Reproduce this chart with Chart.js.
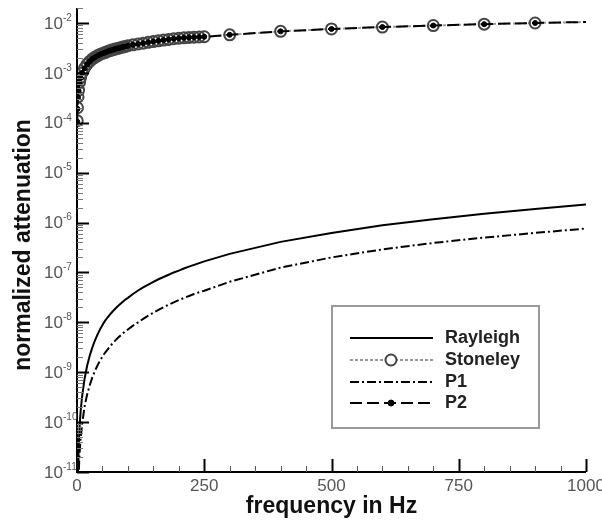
<!DOCTYPE html>
<html>
<head>
<meta charset="utf-8">
<script src="https://cdn.jsdelivr.net/npm/chart.js@4"></script>
<style>
  body { margin: 0; background: #fff; }
  canvas { display: block; }
</style>
</head>
<body>
<canvas id="chart" width="602" height="523"></canvas>
<script>
// frequency samples (Hz)
const freq = [0.5, 1, 2, 3, 5, 7, 10, 15, 20, 25, 30, 35, 40, 45, 50, 55, 60, 65, 70, 75, 80, 85, 90, 95, 100,
  110, 120, 130, 140, 150, 160, 170, 180, 190, 200, 210, 220, 230, 240, 250, 300, 400, 500, 600, 700, 800, 900, 1000];

// normalized attenuation per mode
const rayleigh = [7e-13, 2.9e-12, 1.2e-11, 2.8e-11, 7.9e-11, 1.58e-10, 3.27e-10, 7.5e-10, 1.36e-9, 2.14e-9, 3.11e-9, 4.27e-9, 5.62e-9, 7.15e-9, 8.87e-9,
  1.07e-8, 1.25e-8, 1.45e-8, 1.65e-8, 1.87e-8, 2.1e-8, 2.34e-8, 2.6e-8, 2.86e-8, 3.1e-8,
  3.7e-8, 4.35e-8, 5.0e-8, 5.7e-8, 6.5e-8, 7.3e-8, 8.1e-8, 9.0e-8, 1.0e-7, 1.09e-7, 1.2e-7, 1.31e-7, 1.42e-7, 1.54e-7, 1.67e-7,
  2.36e-7, 4.1e-7, 6.2e-7, 8.8e-7, 1.17e-6, 1.5e-6, 1.88e-6, 2.3e-6];

const stoneley = [1.1e-4, 2e-4, 3.3e-4, 4.5e-4, 6.5e-4, 8e-4, 1.0e-3, 1.25e-3, 1.5e-3, 1.7e-3, 1.9e-3, 2.05e-3, 2.2e-3, 2.35e-3, 2.45e-3,
  2.55e-3, 2.7e-3, 2.8e-3, 2.9e-3, 3.0e-3, 3.1e-3, 3.2e-3, 3.3e-3, 3.4e-3, 3.5e-3,
  3.65e-3, 3.8e-3, 3.95e-3, 4.1e-3, 4.25e-3, 4.4e-3, 4.55e-3, 4.7e-3, 4.85e-3, 4.95e-3, 5.05e-3, 5.15e-3, 5.2e-3, 5.25e-3, 5.3e-3,
  5.8e-3, 6.8e-3, 7.6e-3, 8.3e-3, 8.9e-3, 9.5e-3, 1.0e-2, 1.05e-2];

const p1 = [2.2e-13, 9e-13, 3.5e-12, 8e-12, 2.3e-11, 4.5e-11, 9e-11, 2.1e-10, 3.6e-10, 5.5e-10, 7.8e-10, 1.05e-9, 1.35e-9, 1.7e-9, 2.05e-9,
  2.45e-9, 2.85e-9, 3.3e-9, 3.8e-9, 4.3e-9, 4.85e-9, 5.4e-9, 6.0e-9, 6.6e-9, 7.2e-9,
  8.6e-9, 1.0e-8, 1.17e-8, 1.36e-8, 1.56e-8, 1.78e-8, 2.01e-8, 2.26e-8, 2.52e-8, 2.8e-8, 3.08e-8, 3.38e-8, 3.7e-8, 4.0e-8, 4.3e-8,
  6.5e-8, 1.25e-7, 2.0e-7, 2.9e-7, 3.9e-7, 5.0e-7, 6.2e-7, 7.6e-7];

const p2 = [1.05e-4, 1.9e-4, 3.2e-4, 4.4e-4, 6.4e-4, 7.9e-4, 1.0e-3, 1.24e-3, 1.49e-3, 1.7e-3, 1.9e-3, 2.05e-3, 2.2e-3, 2.35e-3, 2.45e-3,
  2.55e-3, 2.7e-3, 2.8e-3, 2.9e-3, 3.0e-3, 3.1e-3, 3.2e-3, 3.3e-3, 3.4e-3, 3.5e-3,
  3.65e-3, 3.8e-3, 3.95e-3, 4.1e-3, 4.25e-3, 4.4e-3, 4.55e-3, 4.7e-3, 4.85e-3, 4.95e-3, 5.05e-3, 5.15e-3, 5.2e-3, 5.25e-3, 5.3e-3,
  5.8e-3, 6.8e-3, 7.6e-3, 8.3e-3, 8.9e-3, 9.5e-3, 1.0e-2, 1.05e-2];

const xTickLabels = [0, 250, 500, 750, 1000];
const yExponents = [-2, -3, -4, -5, -6, -7, -8, -9, -10, -11];

function toPoints(values) {
  return freq.map((f, i) => ({ x: f, y: values[i] }));
}

// markers are skipped on the last sample, like the original plot
const markerAt = (r) => (c) => (c.raw && c.raw.x === 1000 ? 0 : r);

const axesPlugin = {
  id: 'axesPlugin',
  afterDraw(chart) {
    const { ctx, chartArea: a, scales: { x, y } } = chart;
    ctx.save();

    // axis lines
    ctx.strokeStyle = '#000';
    ctx.lineWidth = 2;
    ctx.beginPath();
    ctx.moveTo(a.left, a.top);
    ctx.lineTo(a.left, a.bottom);
    ctx.lineTo(a.right, a.bottom);
    ctx.stroke();

    // x ticks (inward)
    for (let v = 0; v <= 1000; v += 50) {
      const px = Math.round(x.getPixelForValue(v)) + 0.5;
      const major = v % 250 === 0;
      ctx.lineWidth = major ? 2 : 1;
      ctx.strokeStyle = major ? '#000' : '#555';
      ctx.beginPath();
      ctx.moveTo(px, a.bottom);
      ctx.lineTo(px, a.bottom - (major ? 13 : 6));
      ctx.stroke();
    }

    // y ticks (inward)
    yExponents.forEach(e => {
      for (let k = 1; k <= 9; k++) {
        const v = k * Math.pow(10, e);
        if (v > y.max) break;
        const py = Math.round(y.getPixelForValue(v)) + 0.5;
        const major = k === 1;
        ctx.lineWidth = major ? 2 : 1;
        ctx.strokeStyle = major ? '#000' : '#777';
        ctx.beginPath();
        ctx.moveTo(a.left, py);
        ctx.lineTo(a.left + (major ? 12 : 6), py);
        ctx.stroke();
      }
    });

    // tick labels
    ctx.fillStyle = '#555';
    ctx.font = '17px "Liberation Sans", Arial, sans-serif';
    ctx.textAlign = 'center';
    ctx.textBaseline = 'middle';
    xTickLabels.forEach(v => {
      ctx.fillText(String(v), x.getPixelForValue(v), a.bottom + 14);
    });

    yExponents.forEach(e => {
      const py = y.getPixelForValue(Math.pow(10, e));
      ctx.font = '17px "Liberation Sans", Arial, sans-serif';
      ctx.textAlign = 'right';
      ctx.fillText('10', a.left - 14, py + 1);
      ctx.font = '10px "Liberation Sans", Arial, sans-serif';
      ctx.textAlign = 'left';
      ctx.fillText(String(e), a.left - 14, py - 5);
    });

    // axis titles
    ctx.fillStyle = '#111';
    ctx.font = 'bold 23px "Liberation Sans", Arial, sans-serif';
    ctx.textAlign = 'center';
    ctx.fillText('frequency in Hz', (a.left + a.right) / 2, a.bottom + 35);
    ctx.save();
    ctx.translate(24, 245);
    ctx.rotate(-Math.PI / 2);
    ctx.fillText('normalized attenuation', 0, 0);
    ctx.restore();

    // legend box
    const lx = 332, ly = 306, lw = 207, lh = 122;
    ctx.fillStyle = '#fff';
    ctx.fillRect(lx, ly, lw, lh);
    ctx.strokeStyle = '#999';
    ctx.lineWidth = 2;
    ctx.strokeRect(lx, ly, lw, lh);

    const rows = [32, 54, 76, 97];
    chart.data.datasets.slice().sort((d1, d2) => d1.legendIndex - d2.legendIndex).forEach((ds, i) => {
      const ry = ly + rows[i];
      ctx.setLineDash(ds.borderDash || []);
      ctx.strokeStyle = ds.borderColor;
      ctx.lineWidth = ds.borderWidth;
      ctx.beginPath();
      ctx.moveTo(lx + 18, ry);
      ctx.lineTo(lx + 101, ry);
      ctx.stroke();
      ctx.setLineDash([]);
      if (ds.legendMarker) {
        ctx.beginPath();
        ctx.arc(lx + 59, ry, ds.legendMarker, 0, Math.PI * 2);
        ctx.fillStyle = ds.legendMarkerFill;
        ctx.fill();
        ctx.strokeStyle = ds.pointBorderColor;
        ctx.lineWidth = ds.pointBorderWidth;
        ctx.stroke();
      }
      ctx.fillStyle = '#222';
      ctx.font = 'bold 18px "Liberation Sans", Arial, sans-serif';
      ctx.textAlign = 'left';
      ctx.fillText(ds.label, lx + 113, ry);
    });

    ctx.restore();
  }
};

new Chart(document.getElementById('chart'), {
  type: 'line',
  data: {
    datasets: [
      {
        label: 'P2', legendIndex: 3, order: 0,
        data: toPoints(p2),
        borderColor: '#000', borderWidth: 2, borderDash: [12, 5],
        pointRadius: markerAt(2.5), pointBackgroundColor: '#000', pointBorderColor: '#000', pointBorderWidth: 1,
        legendMarker: 3, legendMarkerFill: '#000'
      },
      {
        label: 'Stoneley', legendIndex: 1, order: 1,
        data: toPoints(stoneley),
        borderColor: '#999', borderWidth: 2, borderDash: [3, 2],
        pointRadius: markerAt(5.5), pointBackgroundColor: 'rgba(255,255,255,0)', pointBorderColor: '#444', pointBorderWidth: 2,
        legendMarker: 5.5, legendMarkerFill: '#fff'
      },
      {
        label: 'P1', legendIndex: 2, order: 2,
        data: toPoints(p1),
        borderColor: '#000', borderWidth: 2, borderDash: [9, 3, 2, 3],
        pointRadius: 0
      },
      {
        label: 'Rayleigh', legendIndex: 0, order: 3,
        data: toPoints(rayleigh),
        borderColor: '#000', borderWidth: 2,
        pointRadius: 0
      }
    ]
  },
  options: {
    responsive: false,
    animation: false,
    layout: { padding: { left: 77, right: 16, top: 8, bottom: 51 } },
    elements: { line: { tension: 0 } },
    scales: {
      x: { type: 'linear', min: 0, max: 1000, display: false },
      y: { type: 'logarithmic', min: 1e-11, max: 0.02, display: false }
    },
    plugins: {
      legend: { display: false },
      tooltip: { enabled: false }
    }
  },
  plugins: [axesPlugin]
});
</script>
</body>
</html>
